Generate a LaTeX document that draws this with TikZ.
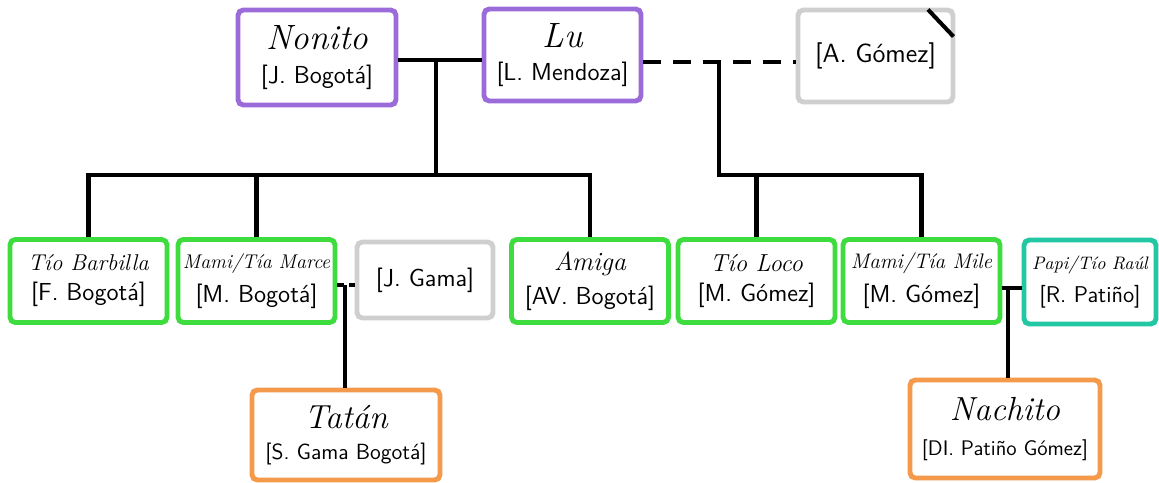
\documentclass[tikz,border=0pt]{standalone}
\usepackage{fontspec}
\usepackage{tikz}

\definecolor{morado}{HTML}{9C6BDA}
\definecolor{verde}{HTML}{3EDC3E}
\definecolor{gris}{HTML}{CFCFCF}
\definecolor{turquesa}{HTML}{22C7A4}
\definecolor{naranja}{HTML}{F5994A}

\begin{document}
\begin{tikzpicture}[
		persona/.style={rectangle, draw, fill=white, rounded corners=3pt, line width=2.8pt,
			align=center, inner sep=0pt, font=\sffamily},
		enlace/.style={line width=2.3pt},
		pareja/.style={line width=2.3pt, dash pattern=on 0.36cm off 0.24cm}
	]
  \useasboundingbox (0,0) rectangle (23.18,-9.64);

  % abuelos
  \node (nonito) [persona, draw=morado, minimum width=3.16cm, minimum height=1.9cm] at (6.34cm, -1.15cm)
    {{\rmfamily\itshape\fontsize{20}{23}\selectfont Nonito}\\[7pt]{\fontsize{14}{16}\selectfont [J. Bogotá]}};
  \node (lu) [persona, draw=morado, minimum width=3.14cm, minimum height=1.84cm] at (11.25cm, -1.1cm)
    {{\rmfamily\itshape\fontsize{20}{23}\selectfont Lu}\\[7pt]{\fontsize{14}{16}\selectfont [L. Mendoza]}};
  \node (gomez) [persona, draw=gris, minimum width=3.1cm, minimum height=1.84cm] at (17.51cm, -1.12cm)
    {\fontsize{15}{17}\selectfont [A. Gómez]};

  % hijos
  \node (barbilla) [persona, draw=verde, minimum width=3.14cm, minimum height=1.66cm] at (1.77cm, -5.62cm)
    {{\rmfamily\itshape\fontsize{13}{20}\selectfont Tío Barbilla}\\[5pt]{\fontsize{14}{16}\selectfont [F. Bogotá]}};
  \node (marce) [persona, draw=verde, minimum width=3.14cm, minimum height=1.66cm] at (5.13cm, -5.62cm)
    {{\rmfamily\itshape\fontsize{11.3}{20}\selectfont Mami/Tía Marce}\\[5pt]{\fontsize{14}{16}\selectfont [M. Bogotá]}};
  \node (gama) [persona, draw=gris, minimum width=2.72cm, minimum height=1.52cm] at (8.5cm, -5.6cm)
    {\fontsize{14}{16}\selectfont [J. Gama]};
  \node (amiga) [persona, draw=verde, minimum width=3.14cm, minimum height=1.66cm] at (11.8cm, -5.62cm)
    {{\rmfamily\itshape\fontsize{15}{20}\selectfont Amiga}\\[5pt]{\fontsize{14}{16}\selectfont [AV. Bogotá]}};
  \node (loco) [persona, draw=verde, minimum width=3.14cm, minimum height=1.66cm] at (15.13cm, -5.62cm)
    {{\rmfamily\itshape\fontsize{14}{20}\selectfont Tío Loco}\\[5pt]{\fontsize{14}{16}\selectfont [M. Gómez]}};
  \node (mile) [persona, draw=verde, minimum width=3.14cm, minimum height=1.66cm] at (18.43cm, -5.62cm)
    {{\rmfamily\itshape\fontsize{12}{20}\selectfont Mami/Tía Mile}\\[5pt]{\fontsize{14}{16}\selectfont [M. Gómez]}};
  \node (raul) [persona, draw=turquesa, minimum width=2.64cm, minimum height=1.68cm] at (21.8cm, -5.64cm)
    {{\rmfamily\itshape\fontsize{10.3}{20}\selectfont Papi/Tío Raúl}\\[5pt]{\fontsize{13}{16}\selectfont [R. Patiño]}};

  % nietos
  \node (tatan) [persona, draw=naranja, minimum width=3.76cm, minimum height=1.8cm] at (6.92cm, -8.7cm)
    {{\rmfamily\itshape\fontsize{19}{24}\selectfont Tatán}\\[6pt]{\fontsize{12.5}{16}\selectfont [S. Gama Bogotá]}};
  \node (nachito) [persona, draw=naranja, minimum width=3.8cm, minimum height=1.96cm] at (20.1cm, -8.58cm)
    {{\rmfamily\itshape\fontsize{19}{26}\selectfont Nachito}\\[8pt]{\fontsize{12}{16}\selectfont [DI. Patiño Gómez]}};

  \coordinate (j1) at (8.72cm, -1.2cm);
  \coordinate (bar1) at (8.72cm, -3.5cm);
  \coordinate (j2) at (14.38cm, -1.24cm);
  \coordinate (bar2) at (14.38cm, -3.5cm);
  \coordinate (j3) at (6.9cm, -5.7cm);
  \coordinate (j4) at (20.16cm, -5.76cm);

  \draw [enlace] (nonito.east |- j1) -- (lu.west |- j1);
  \draw [enlace] (j1) -- (bar1);
  \draw [enlace] (barbilla.north) |- (bar1);
  \draw [enlace] (amiga.north) |- (bar1);
  \draw [enlace] (marce.north) -- (marce.north |- bar1);

  \draw [pareja] (lu.east |- j2) -- (gomez.west |- j2);
  \draw [enlace] (j2) -- (bar2) -| (mile.north);
  \draw [enlace] (loco.north) -- (loco.north |- bar2);

  \draw [pareja, dash pattern=on 0.14cm off 0.1cm] (marce.east |- j3) -- (gama.west |- j3);
  \draw [enlace] (j3) -- (j3 |- tatan.north);
  \draw [enlace] (mile.east |- j4) -- (raul.west |- j4);
  \draw [enlace] (j4) -- (j4 |- nachito.north);

  \draw [enlace] ([xshift=-0.55cm, yshift=-0.04cm]gomez.north east) -- ([xshift=-0.04cm, yshift=-0.58cm]gomez.north east);
\end{tikzpicture}
\end{document}
